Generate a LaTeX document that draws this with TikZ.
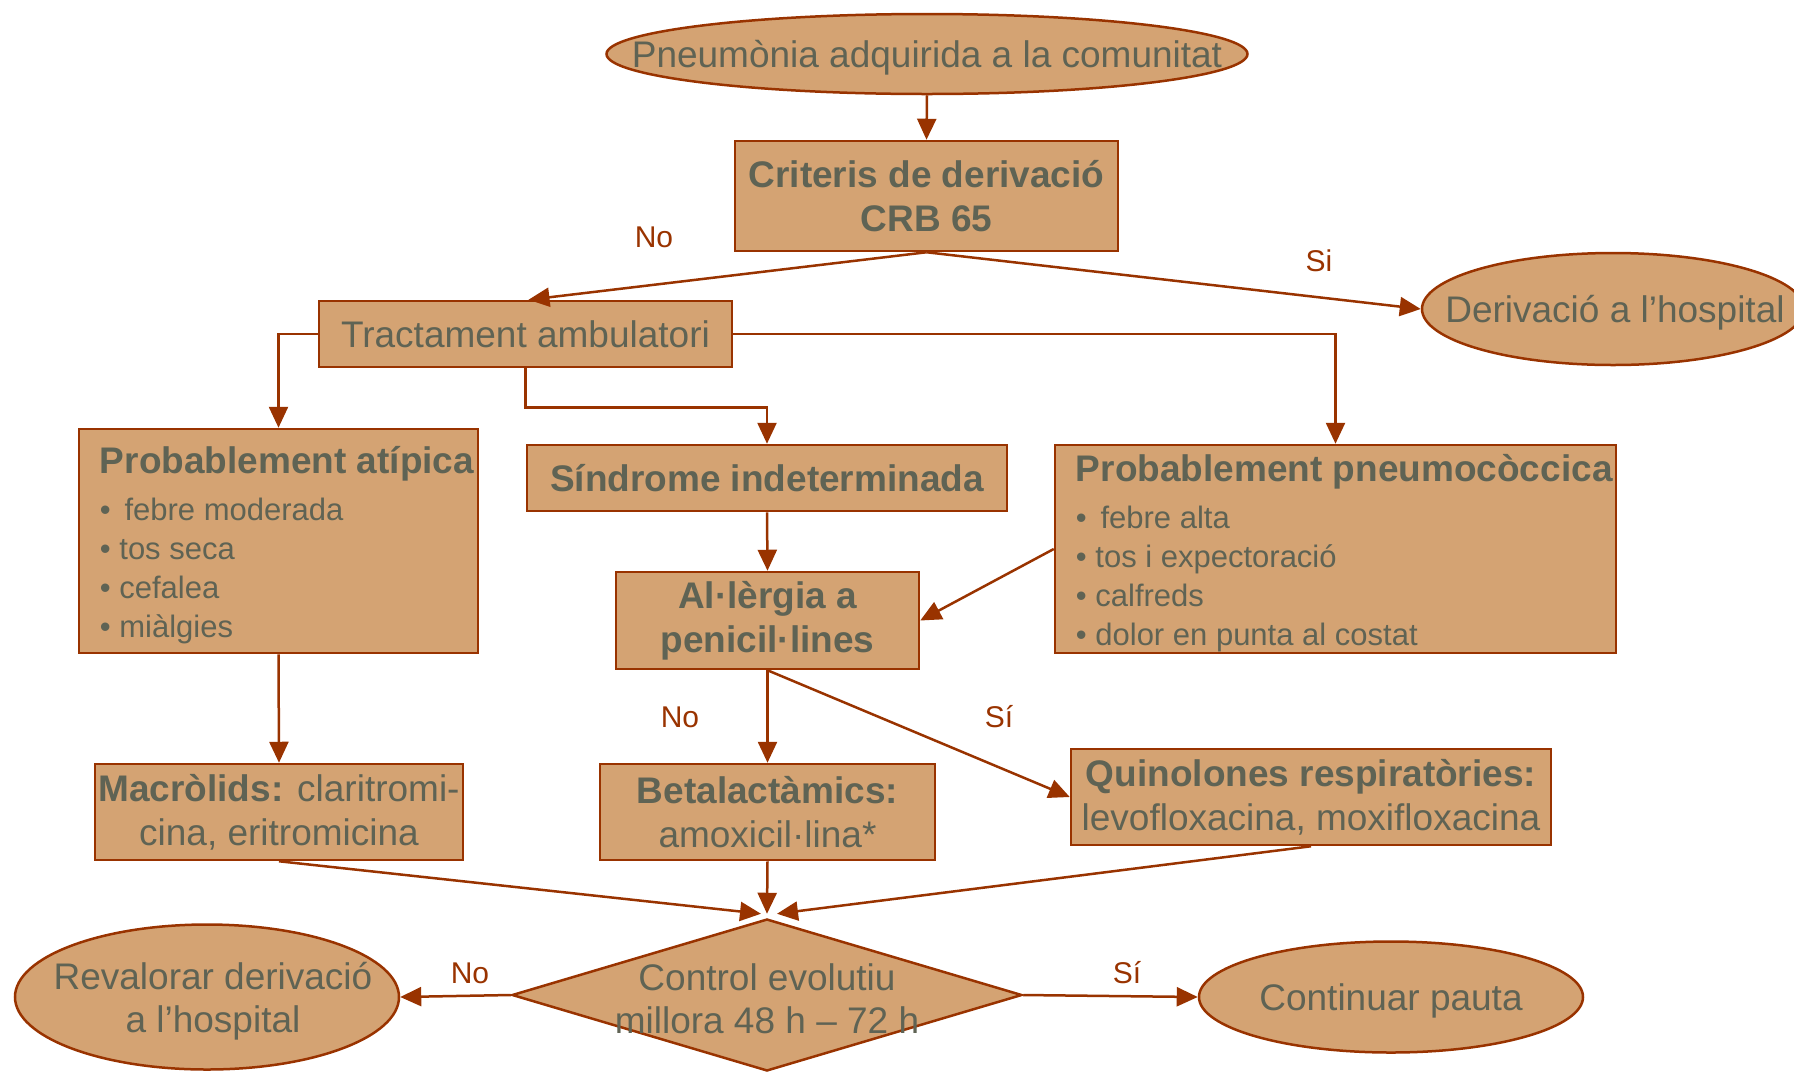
\documentclass[tikz,border=0pt]{standalone}
\usepackage{fontspec}
\setmainfont{Liberation Sans}
\usetikzlibrary{shapes.geometric,arrows.meta,calc}
\definecolor{fillc}{HTML}{D4A373}
\definecolor{edgec}{HTML}{993300}
\definecolor{txtc}{HTML}{5F6354}
\begin{document}
\begin{tikzpicture}[x=1pt,y=-1pt,
  base/.style={draw=edgec, fill=fillc, line width=2.5pt, text=txtc, inner sep=0pt, font=\fontsize{37}{44}\selectfont},
  box/.style={base, rectangle, align=center},
  oval/.style={base, ellipse},
  ctxt/.style={text=txtc, inner sep=0pt, align=center, font=\fontsize{37}{44}\selectfont},
  txt/.style={text=txtc, inner sep=0pt, align=left, font=\fontsize{31}{39}\selectfont},
  conn/.style={draw=edgec, line width=2.5pt, -{Triangle[length=21pt,width=19pt]}},
  lab/.style={text=edgec, inner sep=0pt, font=\fontsize{30}{36}\selectfont},
  ]
\useasboundingbox (0,0) rectangle (1794,1072);

% nodes
\node[oval, minimum width=641pt, minimum height=80pt] (pac) at (927,54) {};
\node[ctxt] (pacT) at ($(pac.center)+(0,4)$) {Pneumònia adquirida a la comunitat};
\node[box, minimum width=383pt, minimum height=110pt] (crit) at (926.5,196) {\bfseries Criteris de derivació\\\bfseries CRB 65};
\node[oval, minimum width=382pt, minimum height=112pt] (deriv) at (1613,309) {};
\node[ctxt] (derivT) at ($(deriv.center)+(2,4)$) {Derivació a l’hospital};
\node[box, minimum width=413pt, minimum height=66pt] (tract) at (525.5,334) {Tractament ambulatori};

\node[box, minimum width=399pt, minimum height=224pt] (atip) at (278.5,541) {};
\node[txt, anchor=west] (atipT) at ($(atip.west)+(22,4)$) {{\fontsize{37}{39}\selectfont\bfseries Probablement atípica}\\[8pt]•\,\ febre moderada\\• tos seca\\• cefalea\\• miàlgies};

\node[box, minimum width=480pt, minimum height=66pt] (sind) at (767,478) {\bfseries Síndrome indeterminada};

\node[box, minimum width=561pt, minimum height=208pt] (pneu) at (1335.5,549) {};
\node[txt, anchor=west] (pneuT) at ($(pneu.west)+(22,4)$) {{\fontsize{37}{39}\selectfont\bfseries Probablement pneumocòccica}\\[8pt]•\,\ febre alta\\• tos i expectoració\\• calfreds\\• dolor en punta al costat};

\node[box, minimum width=303pt, minimum height=97pt] (aller) at (767.5,620.5) {\bfseries Al·lèrgia a\\\bfseries penicil·lines};

\node[box, minimum width=368pt, minimum height=96pt] (macro) at (279,812) {\textbf{Macròlids:} claritromi-\\cina, eritromicina};
\node[box, minimum width=335pt, minimum height=96pt] (betal) at (767.5,812) {\textbf{Betalactàmics:}\\amoxicil·lina*};
\node[box, minimum width=480pt, minimum height=96pt] (quin) at (1311,797) {\textbf{Quinolones respiratòries:}\\levofloxacina, moxifloxacina};

\node[base, diamond, minimum width=510pt, minimum height=152pt] (ctrl) at (767,995) {};
\node[ctxt, font=\fontsize{37}{43}\selectfont] (ctrlT) at ($(ctrl.center)+(0,4)$) {Control evolutiu\\millora 48 h – 72 h};

\node[oval, minimum width=384pt, minimum height=145pt] (reval) at (207,997) {};
\node[ctxt, font=\fontsize{37}{43}\selectfont] (revalT) at ($(reval.center)+(6,4)$) {Revalorar derivació\\a l’hospital};
\node[oval, minimum width=384pt, minimum height=111pt] (cont) at (1391,997) {};
\node[ctxt] (contT) at ($(cont.center)+(0,4)$) {Continuar pauta};

% connectors
\draw[conn] (pac.south) -- (crit.north);
\draw[conn] (crit.south) -- ($(tract.north)+(3,0)$);
\draw[conn] (crit.south) -- (deriv.west);
\draw[conn] (tract.west) -| (atip.north);
\draw[conn] (tract.south) -- ++(0,39) -| (sind.north);
\draw[conn] (tract.east) -| (pneu.north);
\draw[conn] (sind.south) -- (aller.north);
\draw[conn] (pneu.west) -- (aller.east);
\draw[conn] (atip.south) -- (macro.north);
\draw[conn] (aller.south) -- (betal.north);
\draw[conn] (aller.south) -- (quin.west);
\draw[conn] (macro.south) -- ($(ctrl.north)+(-6,-4)$);
\draw[conn] (betal.south) -- ($(ctrl.north)+(0,-4)$);
\draw[conn] (quin.south) -- ($(ctrl.north)+(10,-4)$);
\draw[conn] (ctrl.west) -- (reval.east);
\draw[conn] (ctrl.east) -- (cont.west);

% labels
\node[lab] (l1) at (654,237) {No};
\node[lab] (l2) at (1319,261) {Si};
\node[lab] (l3) at (680,717) {No};
\node[lab] (l4) at (999,717) {Sí};
\node[lab] (l5) at (470,973) {No};
\node[lab] (l6) at (1127,973) {Sí};
\end{tikzpicture}
\end{document}
